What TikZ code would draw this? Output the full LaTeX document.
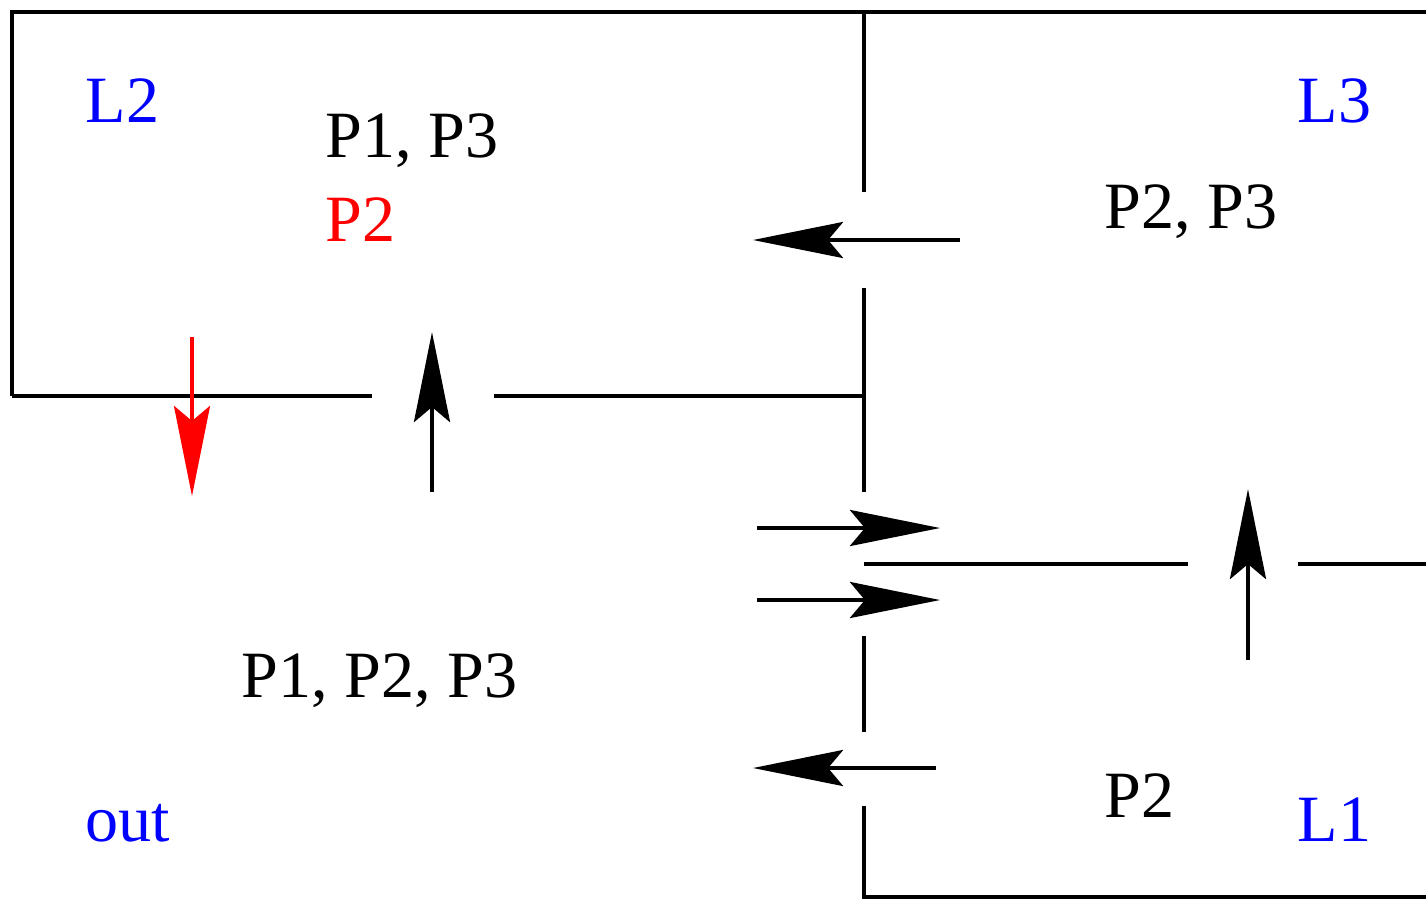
\documentclass[tikz,border=0pt]{standalone}
\usepackage{fontspec}
\setmainfont{Liberation Serif}
\usetikzlibrary{arrows.meta}
\tikzset{
  wall/.style = {line width=0.04cm},
  flow/.style = {line width=0.04cm, -{Stealth[length=0.9cm, width=0.36cm, inset=0.15cm]}},
  lbl/.style  = {anchor=base west, inner sep=0pt, font=\fontsize{18.8}{22}\selectfont},
}
\begin{document}
\begin{tikzpicture}[x=0.01cm, y=-0.01cm]
        \useasboundingbox (0,0) rectangle (1426,899);

        % walls
        \draw[wall] (12,396) -- (12,12) -- (1426,12);
        \draw[wall] (12,396) -- (372,396);
        \draw[wall] (494,396) -- (864,396);
        \draw[wall] (864,12)  -- (864,192);
        \draw[wall] (864,288) -- (864,492);
        \draw[wall] (864,636) -- (864,732);
        \draw[wall] (864,806) -- (864,897) -- (1426,897);
        \draw[wall] (864,564) -- (1188,564);
        \draw[wall] (1298,564) -- (1426,564);

        % room names
        \node[lbl, blue] (L2)  at (85,122)   {L2};
        \node[lbl, blue] (L3)  at (1297,122) {L3};
        \node[lbl, blue] (L1)  at (1297,841) {L1};
        \node[lbl, blue] (out) at (85,841)   {out};

        % contents
        \node[lbl] (l2p)   at (325,157)  {P1, P3};
        \node[lbl, red] (l2r) at (325,241) {P2};
        \node[lbl] (l3p)   at (1104,228) {P2, P3};
        \node[lbl] (outp)  at (241,697)  {P1, P2, P3};
        \node[lbl] (l1p)   at (1104,817) {P2};

        % arrow ends
        \coordinate (a1s) at (960,240);  \coordinate (a1e) at (753,240);
        \coordinate (a2s) at (757,528);  \coordinate (a2e) at (940,528);
        \coordinate (a3s) at (757,600);  \coordinate (a3e) at (940,600);
        \coordinate (a4s) at (936,768);  \coordinate (a4e) at (753,768);
        \coordinate (a5s) at (432,492);  \coordinate (a5e) at (432,332);
        \coordinate (a6s) at (1248,660); \coordinate (a6e) at (1248,489);
        \coordinate (a7s) at (192,337);  \coordinate (a7e) at (192,496);

        % flows
        \draw[flow] (a1s) -- (a1e);
        \draw[flow] (a2s) -- (a2e);
        \draw[flow] (a3s) -- (a3e);
        \draw[flow] (a4s) -- (a4e);
        \draw[flow] (a5s) -- (a5e);
        \draw[flow] (a6s) -- (a6e);
        \draw[flow, red, line width=0.035cm] (a7s) -- (a7e);
\end{tikzpicture}
\end{document}
